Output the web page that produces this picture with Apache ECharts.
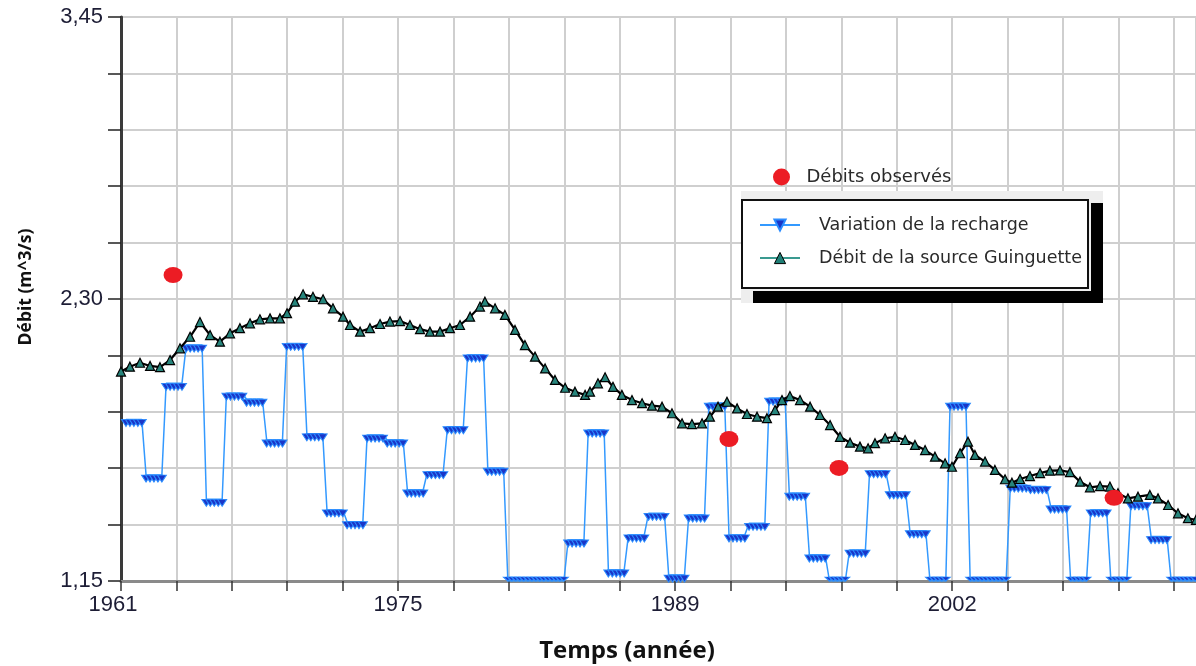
<!DOCTYPE html>
<html><head><meta charset="utf-8">
<script src="https://cdn.jsdelivr.net/npm/echarts@6/dist/echarts.min.js"></script>
<style>html,body{margin:0;padding:0;background:#fff}#c{width:1196px;height:666px}</style>
</head><body><div id="c"></div>
<script>
// ---- data ----
const rechargeYears = [1961,1962,1963,1964,1965,1966,1967,1968,1969,1970,1971,1972,1973,1974,1975,1976,1977,1978,1979,1980,1981,1982,1983,1984,1985,1986,1987,1988,1989,1990,1991,1992,1993,1994,1995,1996,1997,1998,1999,2000,2001,2002,2003,2004,2005,2006,2007,2008,2009,2010,2011,2012,2013,2014];
const rechargeValues = [1.809,1.582,1.956,2.112,1.483,1.916,1.891,1.725,2.119,1.750,1.440,1.392,1.745,1.725,1.521,1.596,1.779,2.072,1.610,1.15,1.15,1.15,1.317,1.766,1.195,1.338,1.426,1.174,1.419,1.875,1.338,1.385,1.895,1.508,1.256,1.15,1.276,1.600,1.514,1.355,1.15,1.875,1.15,1.15,1.541,1.535,1.456,1.15,1.440,1.15,1.469,1.331,1.15,1.15];
const sourceTimes = [1961.00,1961.45,1961.96,1962.47,1962.97,1963.48,1963.98,1964.49,1964.99,1965.50,1966.00,1966.51,1967.01,1967.52,1968.02,1968.53,1969.03,1969.39,1969.79,1970.20,1970.70,1971.21,1971.71,1972.22,1972.57,1973.08,1973.58,1974.09,1974.59,1975.10,1975.60,1976.11,1976.61,1977.12,1977.62,1978.13,1978.64,1979.14,1979.39,1979.90,1980.40,1980.91,1981.41,1981.92,1982.43,1982.93,1983.44,1983.94,1984.45,1984.70,1985.10,1985.46,1985.86,1986.31,1986.82,1987.33,1987.83,1988.34,1988.84,1989.35,1989.85,1990.36,1990.76,1991.17,1991.62,1992.13,1992.63,1993.14,1993.64,1994.05,1994.40,1994.80,1995.31,1995.82,1996.32,1996.83,1997.33,1997.84,1998.34,1998.75,1999.10,1999.61,2000.11,2000.62,2001.12,2001.63,2002.13,2002.64,2002.99,2003.40,2003.80,2004.15,2004.66,2005.16,2005.67,2006.02,2006.43,2006.93,2007.44,2007.94,2008.45,2008.95,2009.46,2009.96,2010.47,2010.97,2011.38,2011.88,2012.39,2012.99,2013.40,2013.91,2014.41,2014.91,2015.32];
const sourceValues = [2.004,2.024,2.040,2.027,2.022,2.051,2.099,2.146,2.206,2.153,2.126,2.160,2.181,2.201,2.217,2.221,2.221,2.242,2.289,2.319,2.309,2.299,2.262,2.228,2.194,2.167,2.181,2.198,2.208,2.210,2.194,2.177,2.167,2.167,2.181,2.194,2.228,2.269,2.289,2.262,2.235,2.174,2.112,2.065,2.017,1.970,1.938,1.922,1.909,1.922,1.956,1.981,1.942,1.909,1.888,1.875,1.865,1.861,1.834,1.793,1.790,1.793,1.820,1.861,1.881,1.854,1.831,1.820,1.814,1.847,1.888,1.904,1.888,1.861,1.827,1.786,1.738,1.714,1.698,1.691,1.712,1.732,1.738,1.725,1.705,1.684,1.657,1.630,1.616,1.671,1.718,1.664,1.637,1.603,1.565,1.551,1.566,1.578,1.590,1.600,1.601,1.594,1.555,1.532,1.537,1.535,1.508,1.487,1.494,1.501,1.487,1.460,1.426,1.406,1.399];
const observedTimes = [1963.63, 1991.72, 1997.28, 2011.18];
const observedValues = [2.398, 1.729, 1.611, 1.489];
const xTickLabels = ['1961', '1975', '1989', '2002'];
const yTickLabels = ['1,15', '2,30', '3,45'];
const seriesNames = ['Débits observés', 'Variation de la recharge', 'Débit de la source Guinguette'];

// ---- build series data ----
const Y_MIN = 1.15, Y_MAX = 3.45;
const stepSpacing = 1.0157;            // spacing of yearly recharge steps on the time axis
const sampleOffsets = [0.25, 0.45, 0.65, 0.85, 1.05]; // time samples within one recharge step
const rechargeData = [];
rechargeYears.forEach((yr, i) => {
  const t0 = rechargeYears[0] + (yr - rechargeYears[0]) * stepSpacing;
  const v = rechargeValues[i];
  sampleOffsets.forEach(o => {
    const item = { value: [t0 + o, v] };
    if (v <= Y_MIN) { item.symbolSize = [9, 4]; item.symbolOffset = [0, -2]; }
    rechargeData.push(item);
  });
});
const sourceData = sourceTimes.map((t, i) => [t, sourceValues[i]]);
const observedData = observedTimes.map((t, i) => [t, observedValues[i]]);

const chart = echarts.init(document.getElementById('c'), null, { renderer: 'canvas' });
const tickFont = "'Liberation Sans', Arial, sans-serif";
chart.setOption({
  animation: false,
  backgroundColor: '#ffffff',
  grid: { left: 121, top: 17, right: 0, bottom: 85, containLabel: false },
  xAxis: {
    type: 'value', min: 1961, max: 2015.32, interval: 2.8,
    axisLine: { show: true, onZero: false, lineStyle: { color: '#8a8a8a', width: 3 } },
    axisTick: { show: true, length: 10, lineStyle: { color: '#333', width: 1.5 } },
    axisLabel: {
      margin: 13, fontSize: 22, fontFamily: tickFont, color: '#1d1d35',
      showMaxLabel: false,
      formatter: (v, i) => {
        if (i % 5 !== 0 || !xTickLabels[i / 5]) return '';
        return i === 0 ? '{first|' + xTickLabels[0] + '}' : xTickLabels[i / 5];
      },
      rich: { first: { fontSize: 22, fontFamily: tickFont, color: '#1d1d35', padding: [0, 16, 0, 0] } }
    },
    splitLine: { show: true, lineStyle: { color: '#cfcfcf', width: 2 } }
  },
  yAxis: {
    type: 'value', min: Y_MIN, max: Y_MAX, interval: 0.23,
    axisLine: { show: true, lineStyle: { color: '#3a3a3a', width: 3 } },
    axisTick: { show: true, length: 13, lineStyle: { color: '#222', width: 1.5 } },
    axisLabel: {
      margin: 18, fontSize: 22, fontFamily: tickFont, color: '#1d1d35',
      formatter: (v, i) => (i % 5 === 0 && yTickLabels[i / 5]) ? yTickLabels[i / 5] : ''
    },
    splitLine: { show: true, lineStyle: { color: '#cfcfcf', width: 2 } }
  },
  legend: [
    {
      data: [seriesNames[0]], left: 773, top: 168, padding: 0,
      itemWidth: 20, itemHeight: 17, z: 10,
      textStyle: { fontFamily: "'DejaVu Sans', sans-serif", fontSize: 18, color: '#2a2a2a', padding: [0, 0, 0, 10] }
    },
    {
      data: [
        { name: seriesNames[1] },
        { name: seriesNames[2], lineStyle: { color: '#3a9a90', width: 2 }, itemStyle: { color: '#1f7f76', borderColor: '#000', borderWidth: 1 } }
      ],
      orient: 'vertical', left: 759, top: 216, padding: 0,
      itemWidth: 40, itemHeight: 14, itemGap: 15, z: 10,
      textStyle: { fontFamily: "'DejaVu Sans', sans-serif", fontSize: 17.5, color: '#2a2a2a', padding: [0, 0, 0, 14] }
    }
  ],
  graphic: [
    { type: 'rect', z: 3, shape: { x: 741, y: 191, width: 362, height: 112 }, style: { fill: '#eeeeee' } },
    { type: 'rect', z: 4, shape: { x: 1091, y: 203, width: 12, height: 100 }, style: { fill: '#000' } },
    { type: 'rect', z: 4, shape: { x: 753, y: 291, width: 350, height: 12 }, style: { fill: '#000' } },
    { type: 'rect', z: 5, shape: { x: 742, y: 200, width: 346, height: 88 }, style: { fill: '#fff', stroke: '#111', lineWidth: 2 } },
    { type: 'text', z: 5, x: 627, y: 651, style: { text: 'Temps (année)', font: "bold 24px 'Open Sans', sans-serif", fill: '#111', textAlign: 'center', textVerticalAlign: 'middle' } },
    { type: 'text', z: 5, x: 26, y: 287, rotation: Math.PI / 2, style: { text: 'Débit (m^3/s)', font: "bold 17.5px 'Open Sans', sans-serif", fill: '#111', textAlign: 'center', textVerticalAlign: 'middle' } }
  ],
  series: [
    {
      name: seriesNames[1], type: 'line', z: 2, data: rechargeData,
      showAllSymbol: true, symbol: 'triangle', symbolRotate: 180, symbolSize: [9, 7], symbolOffset: [0, 3.5],
      lineStyle: { color: '#3399ff', width: 1.5 },
      itemStyle: { color: '#1a36c8', borderColor: '#2a8cff', borderWidth: 1 }
    },
    {
      name: seriesNames[2], type: 'line', z: 3, data: sourceData,
      showAllSymbol: true, symbol: 'triangle', symbolSize: 9,
      lineStyle: { color: '#000', width: 2.2 },
      itemStyle: { color: '#27857c', borderColor: '#000', borderWidth: 1.2 }
    },
    {
      name: seriesNames[0], type: 'scatter', z: 4, data: observedData,
      symbol: 'circle', symbolSize: [19, 16],
      itemStyle: { color: '#ec1c24', opacity: 1 }
    }
  ]
});
</script>
</body></html>
